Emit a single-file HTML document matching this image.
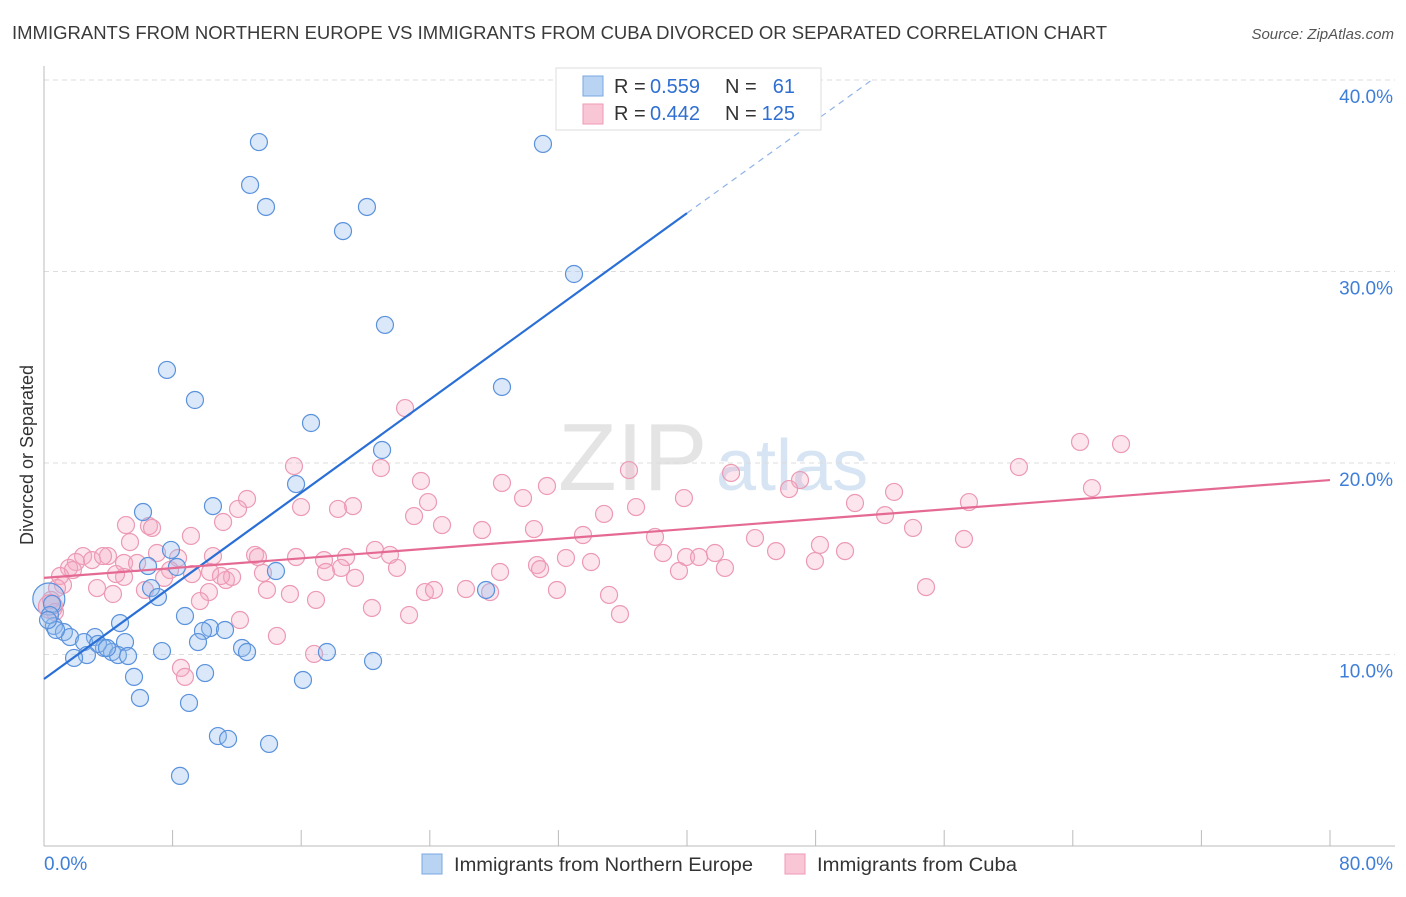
<!DOCTYPE html>
<html><head><meta charset="utf-8"><style>
body{margin:0;background:#fff;font-family:"Liberation Sans",sans-serif;}
svg text{font-family:"Liberation Sans",sans-serif;}
</style></head><body>
<svg id="chart" width="1406" height="892">
<text x="12" y="39" font-size="18" fill="#3a3a3a" textLength="1095" lengthAdjust="spacingAndGlyphs">IMMIGRANTS FROM NORTHERN EUROPE VS IMMIGRANTS FROM CUBA DIVORCED OR SEPARATED CORRELATION CHART</text>
<text x="1394" y="39" font-size="15" fill="#555" text-anchor="end" font-style="italic">Source: ZipAtlas.com</text>
<text x="558" y="490" font-size="96" fill="#e4e4e4" font-family="Liberation Serif">ZIP</text>
<text x="716" y="490" font-size="72" fill="#d6e4f3">atlas</text>
<text transform="translate(33,455) rotate(-90)" font-size="18" fill="#333" text-anchor="middle">Divorced or Separated</text>
<g id="grid"></g><g id="ticks"></g><g id="pts"></g><g id="lines"></g>
<g>
<rect x="556" y="68" width="265" height="62" fill="#fff" stroke="#ddd"/>
<rect x="583" y="76" width="20" height="20" fill="#b9d3f3" stroke="#7aa7e0"/>
<rect x="583" y="104" width="20" height="20" fill="#f9c6d6" stroke="#ee9ab5"/>
<text x="614" y="93" font-size="20" fill="#333">R =</text>
<text x="650" y="93" font-size="20" fill="#2f6fd1">0.559</text>
<text x="725" y="93" font-size="20" fill="#333">N =</text>
<text x="795" y="93" font-size="20" fill="#2f6fd1" text-anchor="end">61</text>
<text x="614" y="120" font-size="20" fill="#333">R =</text>
<text x="650" y="120" font-size="20" fill="#2f6fd1">0.442</text>
<text x="725" y="120" font-size="20" fill="#333">N =</text>
<text x="795" y="120" font-size="20" fill="#2f6fd1" text-anchor="end">125</text>
</g>
<g>
<rect x="422" y="854" width="20" height="20" fill="#b9d3f3" stroke="#7aa7e0"/>
<text x="454" y="871" font-size="19" fill="#333" textLength="299" lengthAdjust="spacingAndGlyphs">Immigrants from Northern Europe</text>
<rect x="785" y="854" width="20" height="20" fill="#f9c6d6" stroke="#ee9ab5"/>
<text x="817" y="871" font-size="19" fill="#333" textLength="200" lengthAdjust="spacingAndGlyphs">Immigrants from Cuba</text>
</g>
</svg>
<script>
const blueX=[13.37,12.82,13.81,31.04,20.09,18.60,32.97,21.21,7.65,9.39,28.49,16.61,21.03,15.68,10.51,6.16,7.90,6.47,8.27,14.43,6.66,7.09,27.50,4.73,8.77,10.33,9.89,11.26,0.62,1.24,1.62,3.17,2.49,3.73,4.23,5.04,3.36,2.67,1.87,4.60,5.23,12.32,12.63,9.58,7.34,17.60,20.47,10.02,5.60,16.11,5.97,9.02,10.82,11.45,14.00,8.46,0.50,0.37,0.75,0.25,3.92];
const blueY=[36.76,34.52,33.37,36.66,33.37,32.11,29.87,27.21,24.86,23.29,23.97,22.09,20.68,18.90,17.75,17.44,15.46,14.62,14.57,14.36,13.47,13.00,13.37,11.64,12.01,11.38,11.23,11.28,11.49,11.17,10.91,10.91,10.65,10.34,10.13,10.65,10.55,9.97,9.82,9.97,9.92,10.34,10.13,10.65,10.18,10.13,9.66,9.03,8.83,8.67,7.73,7.47,5.74,5.59,5.33,3.66,12.64,12.06,11.28,11.80,10.34];
const pinkX=[64.45,67.00,22.46,60.65,42.74,47.03,36.39,15.55,20.96,23.45,28.49,31.29,52.88,46.35,39.81,50.45,57.54,65.19,12.63,12.07,11.14,19.22,18.29,29.80,23.89,15.99,23.02,24.76,34.84,36.83,27.25,30.48,33.53,54.06,52.32,44.23,48.27,57.23,38.01,45.54,49.83,47.96,38.51,39.94,41.74,40.75,39.50,42.36,34.03,32.47,30.67,30.86,28.37,20.59,21.52,18.79,18.48,15.68,17.42,17.54,13.13,13.31,10.51,9.14,7.03,6.53,5.10,5.35,6.72,8.34,3.98,2.43,2.99,3.67,1.99,1.56,1.80,1.18,1.00,0.81,0.44,4.98,4.98,5.79,4.48,6.28,7.84,7.47,9.21,10.33,11.32,11.70,11.01,13.62,13.87,15.30,10.26,9.70,3.30,4.29,19.35,21.96,16.92,20.40,22.71,23.70,24.26,26.25,27.75,31.91,35.15,35.83,54.87,12.19,14.49,16.80,8.52,8.77,0.68];
const pinkY=[21.10,20.99,22.87,19.79,19.48,19.11,19.63,19.84,19.74,19.06,18.96,18.80,18.49,18.64,18.17,17.91,17.96,18.69,18.12,17.60,16.92,17.75,17.60,18.17,17.96,17.70,17.23,16.76,17.34,17.70,16.50,16.55,16.24,16.61,17.28,16.08,15.72,16.03,16.14,15.40,15.40,14.88,15.30,15.09,15.30,15.09,14.36,14.52,14.83,15.04,14.67,14.46,14.31,15.46,15.20,15.09,14.52,15.09,14.93,14.31,15.20,15.09,15.14,16.19,15.30,16.71,16.76,15.87,16.61,15.04,15.14,15.14,14.93,15.14,14.83,14.52,14.41,13.63,14.10,13.47,12.85,14.78,14.05,14.78,14.20,13.37,14.41,14.00,14.20,14.31,13.89,14.05,14.10,14.26,13.37,13.16,13.26,12.79,13.47,13.16,14.00,14.52,12.85,12.43,12.06,13.26,13.37,13.42,13.26,13.37,13.11,12.11,13.52,11.80,10.97,10.03,9.30,8.83,12.22];
const yTicks=[10,20,30,40];
const yTickLabels=["10.0%","20.0%","30.0%","40.0%"];
const blueLine=[[0,8.72],[40,33.05]];
const blueDash=[[40,33.05],[51.5,40]];
const pinkLine=[[0,14.0],[80,19.11]];
const X=v=>44+v*16.075, Y=v=>846-v*19.15;
const NS="http://www.w3.org/2000/svg";
function mk(tag,attrs,parent){const e=document.createElementNS(NS,tag);for(const k in attrs)e.setAttribute(k,attrs[k]);document.getElementById(parent).appendChild(e);return e;}
yTicks.forEach((t,i)=>{
 const g=mk('line',{x1:44,x2:1395,y1:Y(t),y2:Y(t),stroke:'#ddd','stroke-dasharray':'5,4'},'grid');
 
 
 const l=mk('text',{x:1393,y:Y(t)+23,'font-size':19,fill:'#3f7ed8','text-anchor':'end'},'ticks');
 l.textContent=yTickLabels[i];
 
 
});
const ax=mk('line',{x1:44,x2:44,y1:66,y2:846,stroke:'#bbb'},'grid');


const bx=mk('line',{x1:44,x2:1395,y1:846,y2:846,stroke:'#bbb'},'grid');


for(let i=0;i<=10;i++){const t=mk('line',{x1:X(i*8),x2:X(i*8),y1:830,y2:846,stroke:'#bbb'},'grid');
 
 }
const x0=mk('text',{x:44,y:870,'font-size':19,fill:'#3f7ed8'},'ticks');x0.textContent='0.0%';


const x1=mk('text',{x:1393,y:870,'font-size':19,fill:'#3f7ed8','text-anchor':'end'},'ticks');x1.textContent='80.0%';


pinkX.forEach((v,i)=>{const c=mk('circle',{cx:X(v),cy:Y(pinkY[i]),r:8.5,fill:'rgba(246,170,195,0.3)',stroke:'#ec9ab4','stroke-width':1.2},'pts');
 
 });
const bigB=mk('circle',{cx:X(0.3),cy:Y(12.9),r:16,fill:'rgba(150,190,238,0.35)',stroke:'#5a92dc','stroke-width':1.2},'pts');


const bigP=mk('circle',{cx:X(0.4),cy:Y(12.5),r:12,fill:'rgba(246,170,195,0.35)',stroke:'#ec9ab4','stroke-width':1.2},'pts');


blueX.forEach((v,i)=>{const c=mk('circle',{cx:X(v),cy:Y(blueY[i]),r:8.5,fill:'rgba(150,190,238,0.35)',stroke:'#5a92dc','stroke-width':1.2},'pts');
 
 });
const bl=mk('line',{x1:X(blueLine[0][0]),y1:Y(blueLine[0][1]),x2:X(blueLine[1][0]),y2:Y(blueLine[1][1]),stroke:'#2a6fd6','stroke-width':2.2},'lines');


const bd=mk('line',{x1:X(blueDash[0][0]),y1:Y(blueDash[0][1]),x2:X(blueDash[1][0]),y2:Y(blueDash[1][1]),stroke:'#8fb3e6','stroke-width':1.2,'stroke-dasharray':'6,5'},'lines');


const pl=mk('line',{x1:X(pinkLine[0][0]),y1:Y(pinkLine[0][1]),x2:X(pinkLine[1][0]),y2:Y(pinkLine[1][1]),stroke:'#e56a93','stroke-width':2.2},'lines');


</script>
</body></html>
